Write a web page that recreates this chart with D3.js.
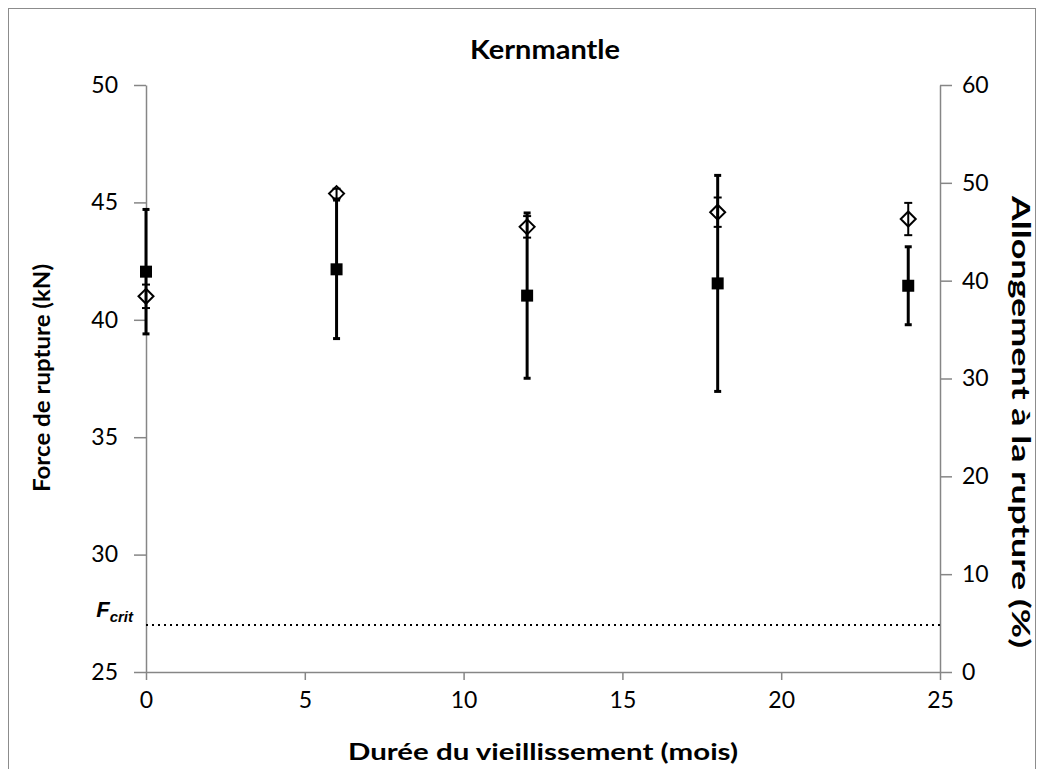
<!DOCTYPE html>
<html>
<head>
<meta charset="utf-8">
<script src="https://cdn.jsdelivr.net/npm/d3@7"></script>
<style>
  body { margin: 0; background: #fff; }
  svg text { font-family: Lato, "Open Sans", sans-serif; }
</style>
</head>
<body>
<div id="chart"></div>
<script>
// data
var months = [0, 6, 12, 18, 24];
var force = [42.05, 42.15, 41.03, 41.55, 41.45];     // kN, left axis
var forceErr = [2.65, 2.95, 3.52, 4.6, 1.66];
var elong = [38.4, 48.9, 45.5, 47.0, 46.3];          // %, right axis
var elongErr = [1.2, 0.5, 1.1, 1.5, 1.65];
var fCrit = 27;
var xTicks = [0, 5, 10, 15, 20, 25];
var yLeftTicks = [25, 30, 35, 40, 45, 50];
var yRightTicks = [0, 10, 20, 30, 40, 50, 60];

var W = 1041, H = 769;
var L = 146, R = 940, T = 85, B = 672;

var svg = d3.select('#chart').append('svg')
  .attr('width', W)
  .attr('height', H);

// outer chart border
svg.append('rect')
  .attr('x', 8.5).attr('y', 8.5)
  .attr('width', 1027).attr('height', 780)
  .attr('fill', 'none')
  .attr('stroke', '#8c8c8c')
  .attr('stroke-width', 1);

var x = d3.scaleLinear().domain([0, 25]).range([L, R]);
var yL = d3.scaleLinear().domain([25, 50]).range([B, T]);
var yR = d3.scaleLinear().domain([0, 60]).range([B, T]);

function styleAxis(g) {
  g.attr('font-family', null).attr('font-size', null);
  g.select('.domain').attr('stroke', '#868686').attr('stroke-width', 1.5);
  g.selectAll('.tick line').attr('stroke', '#868686').attr('stroke-width', 1.5);
  g.selectAll('.tick text').attr('fill', '#000')
    .style('font-family', 'Lato, sans-serif')
    .style('font-size', '23px');
}

var gx = svg.append('g')
  .attr('transform', 'translate(0,' + B + ')')
  .call(d3.axisBottom(x).tickValues(xTicks).tickSize(8).tickSizeOuter(0).tickPadding(8));
styleAxis(gx);
gx.selectAll('.tick text').attr('dy', '0.85em');

var gl = svg.append('g')
  .attr('transform', 'translate(' + L + ',0)')
  .call(d3.axisLeft(yL).tickValues(yLeftTicks).tickSize(12).tickSizeOuter(0).tickPadding(16));
styleAxis(gl);

var gr = svg.append('g')
  .attr('transform', 'translate(' + R + ',0)')
  .call(d3.axisRight(yR).tickValues(yRightTicks).tickSize(12).tickSizeOuter(0).tickPadding(10));
styleAxis(gr);

// critical force line
svg.append('line')
  .attr('x1', x(0)).attr('x2', x(25))
  .attr('y1', yL(fCrit)).attr('y2', yL(fCrit))
  .attr('stroke', '#000')
  .attr('stroke-width', 2)
  .attr('stroke-dasharray', '2,4');

var fl = svg.append('text')
  .attr('x', 133).attr('y', yL(fCrit) - 8)
  .attr('text-anchor', 'end')
  .style('font-family', 'Arial, "Liberation Sans", sans-serif')
  .style('font-weight', 'bold')
  .style('font-style', 'italic');
fl.append('tspan').style('font-size', '22px').text('F');
fl.append('tspan').style('font-size', '15px').attr('dy', 5).text('crit');

var pts = months.map(function (m, i) {
  return { m: m, f: force[i], fe: forceErr[i], e: elong[i], ee: elongErr[i] };
});

// elongation error bars
var ge = svg.append('g');
pts.forEach(function (d) {
  var cx = x(d.m);
  ge.append('line')
    .attr('x1', cx).attr('x2', cx)
    .attr('y1', yR(d.e + d.ee)).attr('y2', yR(d.e - d.ee))
    .attr('stroke', '#000').attr('stroke-width', 2);
  [d.e + d.ee, d.e - d.ee].forEach(function (v) {
    ge.append('line')
      .attr('x1', cx - 4).attr('x2', cx + 4)
      .attr('y1', yR(v)).attr('y2', yR(v))
      .attr('stroke', '#000').attr('stroke-width', 2);
  });
});

// force error bars
var gf = svg.append('g');
pts.forEach(function (d) {
  var cx = x(d.m);
  gf.append('line')
    .attr('x1', cx).attr('x2', cx)
    .attr('y1', yL(d.f + d.fe)).attr('y2', yL(d.f - d.fe))
    .attr('stroke', '#000').attr('stroke-width', 3);
  [d.f + d.fe, d.f - d.fe].forEach(function (v) {
    gf.append('line')
      .attr('x1', cx - 3.5).attr('x2', cx + 3.5)
      .attr('y1', yL(v)).attr('y2', yL(v))
      .attr('stroke', '#000').attr('stroke-width', 3);
  });
});

// diamonds (elongation)
svg.selectAll('path.diamond').data(pts)
  .enter().append('path')
  .attr('class', 'diamond')
  .attr('d', function (d) {
    var cx = x(d.m), cy = yR(d.e), r = 7.5;
    return 'M' + cx + ',' + (cy - r) + 'L' + (cx + r) + ',' + cy +
      'L' + cx + ',' + (cy + r) + 'L' + (cx - r) + ',' + cy + 'Z';
  })
  .attr('fill', 'none')
  .attr('stroke', '#000')
  .attr('stroke-width', 2);

// squares (force)
svg.selectAll('rect.sq').data(pts)
  .enter().append('rect')
  .attr('class', 'sq')
  .attr('x', function (d) { return x(d.m) - 6; })
  .attr('y', function (d) { return yL(d.f) - 6; })
  .attr('width', 12).attr('height', 12)
  .attr('fill', '#000');

// titles
svg.append('text')
  .attr('x', 545).attr('y', 59)
  .attr('text-anchor', 'middle')
  .attr('textLength', 150).attr('lengthAdjust', 'spacingAndGlyphs')
  .style('font-size', '26px').style('font-weight', 'bold')
  .text('Kernmantle');

svg.append('text')
  .attr('x', 543).attr('y', 760)
  .attr('text-anchor', 'middle')
  .attr('textLength', 390).attr('lengthAdjust', 'spacingAndGlyphs')
  .style('font-size', '23px').style('font-weight', 'bold')
  .text('Durée du vieillissement (mois)');

svg.append('text')
  .attr('transform', 'translate(50,' + 378 + ') rotate(-90)')
  .attr('text-anchor', 'middle')
  .attr('textLength', 228).attr('lengthAdjust', 'spacingAndGlyphs')
  .style('font-size', '23px').style('font-weight', 'bold')
  .text('Force de rupture (kN)');

svg.append('text')
  .attr('transform', 'translate(1012,' + 422 + ') rotate(90)')
  .attr('text-anchor', 'middle')
  .attr('textLength', 452).attr('lengthAdjust', 'spacingAndGlyphs')
  .style('font-size', '25px').style('font-weight', 'bold')
  .text('Allongement à la rupture (%)');
</script>
</body>
</html>
